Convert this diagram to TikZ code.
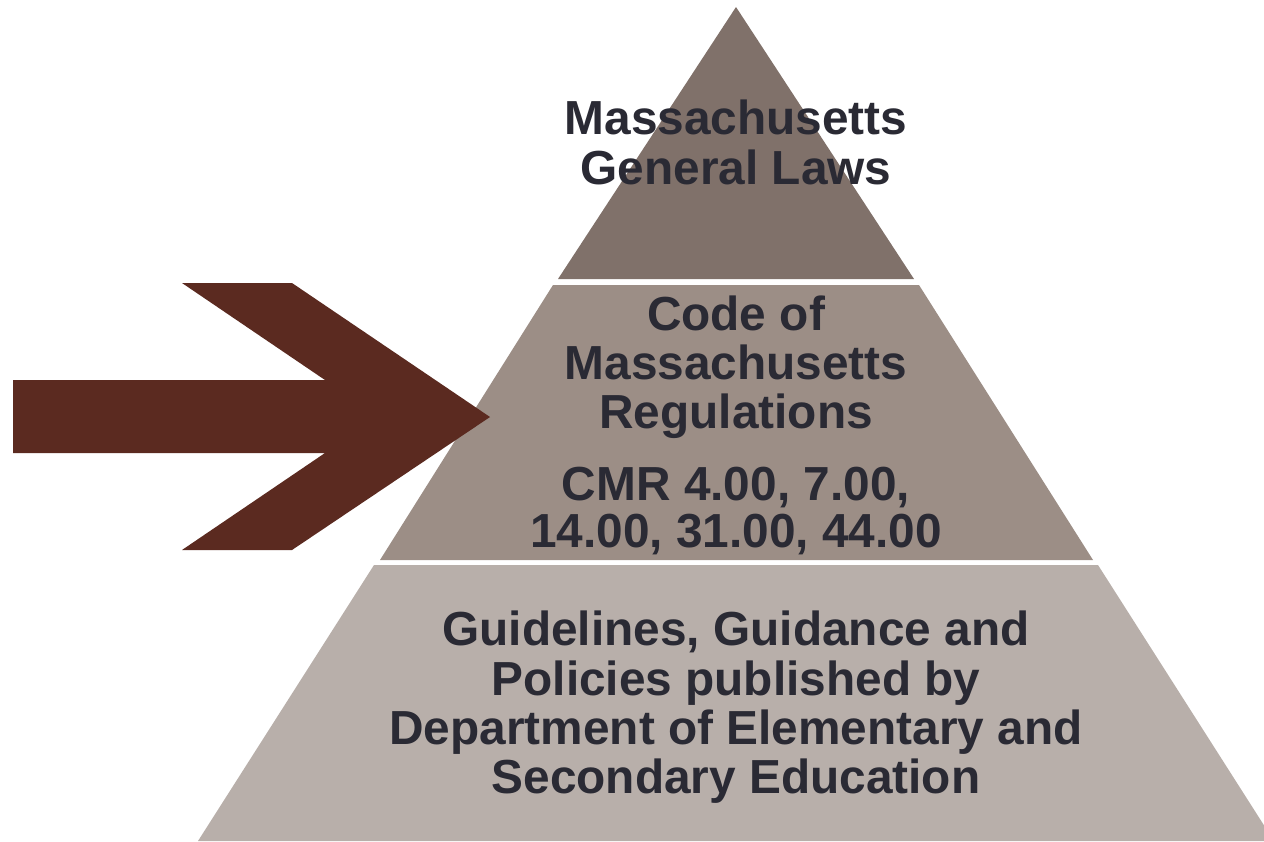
\documentclass[tikz,border=0pt]{standalone}
\usepackage{fontspec}
\setmainfont{Liberation Sans}
\definecolor{tiertop}{RGB}{128,113,106}
\definecolor{tiermid}{RGB}{156,142,134}
\definecolor{tierbot}{RGB}{184,175,170}
\definecolor{arrowbrown}{RGB}{91,42,32}
\definecolor{txt}{RGB}{42,42,52}
\tikzset{
  line/.style={anchor=base, inner sep=0pt, text=txt, font=\bfseries\fontsize{47.8}{50}\selectfont},
  tier/.style={draw=none}
}
\begin{document}
\begin{tikzpicture}[x=1pt,y=-1pt]
\useasboundingbox (0,0) rectangle (1264,841);
\clip (0,0) rectangle (1264,841);
% pyramid tiers
\fill[tiertop] (736,7) -- (558,279) -- (914,279) -- cycle;
\fill[tiermid] (553,285) -- (919,285) -- (1093,560) -- (380,560) -- cycle;
\fill[tierbot] (374,565) -- (1098,565) -- (1274,841) -- (198,841) -- cycle;
% arrow
\fill[arrowbrown] (13,380) -- (325,380) -- (182,283) -- (292,283) -- (490,417)
  -- (292,550) -- (182,550) -- (325,453) -- (13,453) -- cycle;
% texts
\node[line] (a1) at (736,134) {Massachusetts};
\node[line] (a2) at (736,184) {General Laws};
\node[line] (b1) at (736,330) {Code of};
\node[line] (b2) at (736,379) {Massachusetts};
\node[line] (b3) at (736,428) {Regulations};
\node[line] (b4) at (736,500) {CMR 4.00, 7.00,};
\node[line] (b5) at (736,547) {14.00, 31.00, 44.00};
\node[line] (c1) at (736,645) {Guidelines, Guidance and};
\node[line] (c2) at (736,695) {Policies published by};
\node[line] (c3) at (736,744) {Department of Elementary and};
\node[line] (c4) at (736,793) {Secondary Education};
\end{tikzpicture}
\end{document}
